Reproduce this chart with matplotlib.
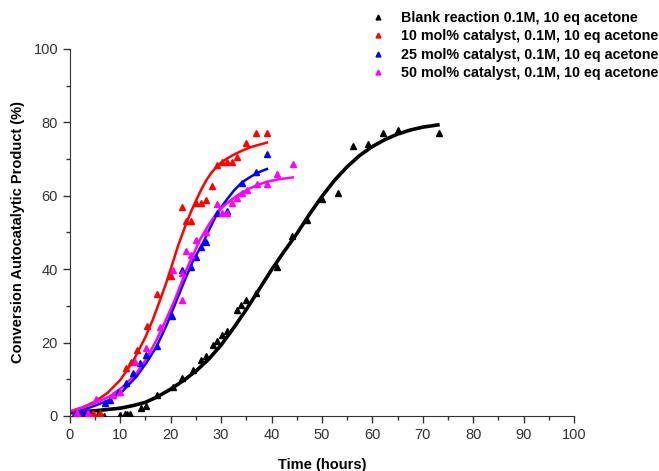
import matplotlib.pyplot as plt
from matplotlib.ticker import MultipleLocator
from matplotlib.lines import Line2D

plt.rcParams['font.family'] = ['Liberation Sans', 'DejaVu Sans']

# --- data ---
labels = ["Blank reaction 0.1M, 10 eq acetone",
          "10 mol% catalyst, 0.1M, 10 eq acetone",
          "25 mol% catalyst, 0.1M, 10 eq acetone",
          "50 mol% catalyst, 0.1M, 10 eq acetone"]
colors = ["black", "#ff0000", "#0000ff", "#ff00ff"]

# measured points
blank_x = [1, 2.5, 4, 5.5, 6.7, 9.9, 10.9, 11.4, 12.0, 14.2, 15.1, 17.2, 20.5, 22.2,
           24.4, 26.1, 27.1, 28.4, 29.2, 30.2, 31.1, 33.1, 34.0, 35.0, 37.0, 41.1,
           44.0, 47.1, 50.1, 53.1, 56.2, 59.2, 62.2, 65.1, 73.2]
blank_y = [0.3, 0.2, 0.3, 0.4, 0.1, 0.3, 0.5, 0.6, 0.5, 2.1, 2.7, 5.7, 8.0, 10.3,
           12.5, 15.3, 16.2, 19.3, 20.5, 22.0, 23.2, 28.9, 30.2, 31.6, 33.4, 40.7,
           48.9, 53.4, 59.2, 60.8, 73.6, 74.2, 77.2, 77.9, 77.2]

cat10_x = [1.0, 3.0, 4.6, 6.0, 11.2, 12.2, 13.4, 15.3, 17.2, 20.0, 22.2, 23.1, 24.1,
           25.1, 26.1, 27.1, 28.1, 29.1, 30.2, 31.1, 32.1, 33.1, 35.0, 37.0, 39.1]
cat10_y = [1.0, 1.2, 0.9, 0.8, 13.0, 14.8, 18.0, 24.6, 33.2, 38.0, 56.8, 53.2, 53.2,
           57.9, 57.9, 58.9, 62.7, 68.4, 69.3, 69.3, 69.3, 70.5, 74.3, 77.0, 77.0]

cat25_x = [1.0, 2.0, 3.0, 6.9, 7.9, 9.6, 11.2, 12.6, 13.9, 15.2, 17.2, 20.2, 22.2,
           24.1, 25.1, 26.1, 27.1, 29.1, 31.1, 34.1, 37.0, 39.1]
cat25_y = [0.5, 0.3, 1.0, 3.5, 4.4, 6.6, 8.9, 11.6, 14.4, 16.6, 19.1, 27.2, 39.8,
           40.7, 43.4, 46.1, 47.5, 55.2, 55.9, 63.6, 66.6, 71.3]

cat50_x = [1.5, 3.6, 5.2, 8.6, 9.9, 12.9, 15.2, 17.9, 20.5, 22.2, 22.2, 23.1, 24.1,
           25.1, 27.1, 29.1, 30.1, 31.1, 32.1, 33.1, 34.1, 35.1, 37.2, 39.1, 41.1, 44.2]
cat50_y = [0.8, 0.7, 4.5, 5.7, 6.6, 14.8, 18.4, 24.3, 39.8, 31.6, 38.9, 45.0, 43.9,
           48.0, 50.2, 57.8, 55.2, 55.2, 57.9, 59.3, 60.7, 61.6, 63.2, 63.2, 65.9, 68.6]

# fitted curves
blank_fx = [0, 5, 10, 12.5, 15, 17.5, 20, 22.5, 25, 27.5, 30, 32.5, 35, 37.5, 40,
            42.5, 45, 47.5, 50, 52.5, 55, 57.5, 60, 62.5, 65, 67.5, 70, 73]
blank_fy = [0.9, 1.4, 2.1, 2.8, 3.7, 5.3, 7.3, 9.6, 12.2, 15.4, 19.3, 24.0, 29.0,
            34.4, 39.8, 44.8, 49.6, 54.9, 59.8, 64.2, 67.9, 71.0, 73.4, 75.3, 76.8,
            77.9, 78.7, 79.3]

cat10_fx = [0, 2.5, 5, 7.5, 10, 12.5, 15, 16.5, 17.9, 19, 20, 21.5, 23.1, 24.1, 25.1,
            26.1, 27.1, 28.1, 29.1, 30, 31, 32, 33.1, 34.5, 36, 37.5, 39.1]
cat10_fy = [1.2, 2.3, 3.9, 6.3, 9.8, 14.8, 21.5, 26.4, 31.6, 35.8, 40.0, 46.5, 52.5,
            55.9, 58.9, 61.8, 64.3, 66.3, 67.9, 69.0, 70.0, 70.8, 71.6, 72.5, 73.3,
            73.9, 74.5]

cat25_fx = [0, 2.5, 5, 7.9, 10.5, 13.2, 15.2, 17.2, 19.2, 21.2, 22.8, 24.5, 26.4,
            27.8, 29.1, 30.1, 31.1, 32.6, 34.1, 35.3, 36.5, 37.8, 39.1]
cat25_fy = [0.7, 1.6, 2.8, 4.4, 6.8, 10.7, 14.5, 18.9, 24.8, 31.6, 37.0, 42.5, 47.1,
            51.2, 54.8, 57.0, 58.9, 61.5, 63.6, 64.7, 65.7, 66.6, 67.3]

cat50_fx = [0, 2.5, 5, 7.9, 10.5, 13.2, 15.2, 17.2, 19.0, 20.8, 23.1, 25.8, 27.5,
            29.1, 30.1, 31.1, 33.1, 35.1, 37.0, 39.0, 41.5, 44.2]
cat50_fy = [1.2, 2.3, 3.5, 5.3, 7.9, 11.6, 15.6, 20.7, 26.0, 31.6, 39.8, 48.0, 52.0,
            55.2, 56.7, 57.9, 60.0, 61.6, 62.8, 63.8, 64.5, 65.0]

fig = plt.figure(figsize=(6.59, 4.71), dpi=100)
ax = fig.add_axes([0.106, 0.117, 0.765, 0.779])

series = [(blank_x, blank_y, blank_fx, blank_fy, 2.6),
          (cat10_x, cat10_y, cat10_fx, cat10_fy, 1.8),
          (cat25_x, cat25_y, cat25_fx, cat25_fy, 1.8),
          (cat50_x, cat50_y, cat50_fx, cat50_fy, 1.8)]
for (px, py, fx, fy, lw), c in zip(series, colors):
    ax.plot(fx, fy, color=c, lw=lw, zorder=2, solid_joinstyle='round')
    ax.plot(px, py, ls="none", marker="^", ms=4, color=c, zorder=3)

ax.set_xlim(0, 100)
ax.set_ylim(0, 100)
ax.xaxis.set_major_locator(MultipleLocator(10))
ax.xaxis.set_minor_locator(MultipleLocator(5))
ax.yaxis.set_major_locator(MultipleLocator(20))
ax.yaxis.set_minor_locator(MultipleLocator(10))
ax.spines['top'].set_visible(False)
ax.spines['right'].set_visible(False)
for s in ('left', 'bottom'):
    ax.spines[s].set_color('#333333')
ax.tick_params(which='major', direction='out', length=5, width=1, colors='#333333',
               labelsize=10.5, labelcolor='#333333')
ax.tick_params(which='minor', direction='out', length=3, width=1, colors='#333333')

ax.set_xlabel("Time (hours)", fontweight='bold', fontsize=10.5, labelpad=12)
ax.set_ylabel("Conversion Autocatalytic Product (%)", fontweight='bold', fontsize=10.5,
              labelpad=6)

handles = [Line2D([], [], ls="none", marker="^", ms=3.5, color=c) for c in colors]
fig.legend(handles, labels, loc='upper left', bbox_to_anchor=(0.541, 1.004),
           frameon=False, prop={'weight': 'bold', 'size': 10.3},
           handlelength=1.2, handletextpad=1.0, labelspacing=0.3)

fig.savefig("out.png", dpi=100)
